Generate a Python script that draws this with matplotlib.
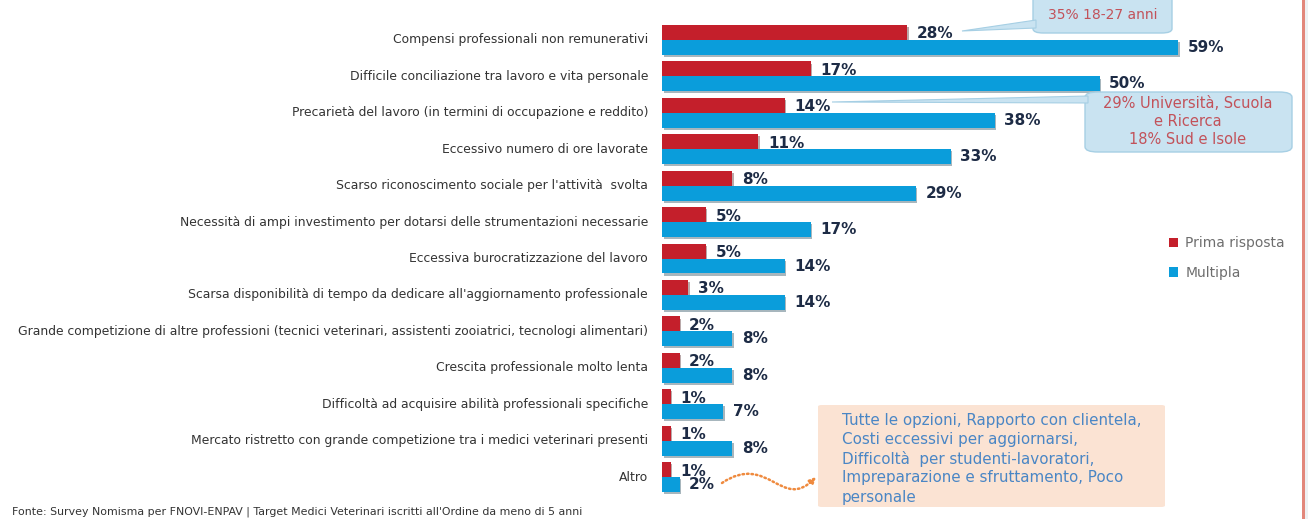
import numpy as np
import matplotlib
matplotlib.use('Agg')
import matplotlib.pyplot as plt
from matplotlib.patches import FancyBboxPatch, Polygon, Rectangle, FancyArrowPatch, Patch
from matplotlib.path import Path
import matplotlib.patheffects as pe

plt.rcParams['font.family'] = ['DejaVu Sans']

categories = [
    'Compensi professionali non remunerativi',
    'Difficile conciliazione tra lavoro e vita personale',
    'Precarietà del lavoro (in termini di occupazione e reddito)',
    'Eccessivo numero di ore lavorate',
    "Scarso riconoscimento sociale per l'attività  svolta",
    'Necessità di ampi investimento per dotarsi delle strumentazioni necessarie',
    'Eccessiva burocratizzazione del lavoro',
    "Scarsa disponibilità di tempo da dedicare all'aggiornamento professionale",
    'Grande competizione di altre professioni (tecnici veterinari, assistenti zooiatrici, tecnologi alimentari)',
    'Crescita professionale molto lenta',
    'Difficoltà ad acquisire abilità professionali specifiche',
    'Mercato ristretto con grande competizione tra i medici veterinari presenti',
    'Altro',
]
prima = [28, 17, 14, 11, 8, 5, 5, 3, 2, 2, 1, 1, 1]
multipla = [59, 50, 38, 33, 29, 17, 14, 14, 8, 8, 7, 8, 2]

RED = '#c41f2b'
BLUE = '#0a9ddb'
NAVY = '#1d2b45'
W, H = 1308, 519


def fx(x, y):
    # pixel (from top-left) -> figure fraction
    return (x / W, 1 - y / H)


fig = plt.figure(figsize=(W / 100, H / 100), dpi=100)
fig.patch.set_facecolor('white')

ax = fig.add_axes([662 / W, 0, (1300 - 662) / W, 1])
ax.set_xlim(0, 638 / 8.75)
ax.set_ylim(13.15, -1.098)
ax.axis('off')

y = np.arange(len(categories))
h = 0.41
shadow = [pe.SimplePatchShadow(offset=(1.2, -1.5), alpha=0.35), pe.Normal()]
bars_r = ax.barh(y - h / 2, prima, height=h, color=RED, path_effects=shadow)
bars_b = ax.barh(y + h / 2, multipla, height=h, color=BLUE, path_effects=shadow)

for yi, v in zip(y, prima):
    ax.annotate(f'{v}%', (v, yi - h / 2), xytext=(7, -1), textcoords='offset points',
                va='center', ha='left', fontsize=11, fontweight='heavy', color=NAVY)
for yi, v in zip(y, multipla):
    ax.annotate(f'{v}%', (v, yi + h / 2), xytext=(7, 0), textcoords='offset points',
                va='center', ha='left', fontsize=11, fontweight='heavy', color=NAVY)

# category labels
for yi, c in zip(y, categories):
    ax.annotate(c, (0, yi), xytext=(-10, 0), textcoords='offset points',
                ha='right', va='center', fontsize=8.9, color='#333333')

# right border strip
fig.patches.append(Rectangle(fx(1304, 519), (W - 1304) / W, 1, transform=fig.transFigure,
                             facecolor='#eef0f2', edgecolor='none'))
fig.patches.append(Rectangle(fx(1302, 519), 2.5 / W, 1, transform=fig.transFigure,
                             facecolor='#e2877b', edgecolor='none'))

CB_FACE = '#c9e3f1'
CB_EDGE = '#a6cfe4'
CB_TEXT = '#c2525a'

# callout 1
x0, y0 = fx(1033, 33)
x1, y1 = fx(1172, -8)
fig.patches.append(FancyBboxPatch((x0, y0), x1 - x0, y1 - y0, boxstyle='round,pad=0,rounding_size=0.008',
                                  transform=fig.transFigure, facecolor=CB_FACE, edgecolor=CB_EDGE, lw=1))
tail1 = Polygon([fx(962, 31), fx(1036, 20), fx(1036, 28)], closed=True, transform=fig.transFigure,
                facecolor=CB_FACE, edgecolor=CB_EDGE, lw=0.8)
fig.patches.append(tail1)
fig.text(*fx(1103, 15), '35% 18-27 anni', ha='center', va='center', fontsize=10, color=CB_TEXT)

# callout 2
x0, y0 = fx(1085, 152)
x1, y1 = fx(1292, 92)
fig.patches.append(FancyBboxPatch((x0, y0), x1 - x0, y1 - y0, boxstyle='round,pad=0,rounding_size=0.01',
                                  transform=fig.transFigure, facecolor=CB_FACE, edgecolor=CB_EDGE, lw=1))
tail2 = Polygon([fx(832, 102), fx(1088, 96), fx(1088, 103)], closed=True, transform=fig.transFigure,
                facecolor=CB_FACE, edgecolor=CB_EDGE, lw=0.8)
fig.patches.append(tail2)
for ty, t in zip([103, 121, 139], ['29% Università, Scuola', 'e Ricerca', '18% Sud e Isole']):
    fig.text(*fx(1188, ty), t, ha='center', va='center', fontsize=10.5, color=CB_TEXT)

# legend
handles = [Patch(facecolor=RED, label='Prima risposta'), Patch(facecolor=BLUE, label='Multipla')]
leg = fig.legend(handles=handles, loc='upper left', bbox_to_anchor=fx(1156, 224), frameon=False,
                 fontsize=10, handlelength=0.7, handleheight=0.7, handletextpad=0.5, labelspacing=1.1)
for t in leg.get_texts():
    t.set_color('#6e6e6e')

# bottom note box
x0, y0 = fx(818, 507)
x1, y1 = fx(1165, 405)
fig.patches.append(FancyBboxPatch((x0, y0), x1 - x0, y1 - y0, boxstyle='round,pad=0,rounding_size=0.003',
                                  transform=fig.transFigure, facecolor='#fbe3d3', edgecolor='none'))
note = ['Tutte le opzioni, Rapporto con clientela,',
        'Costi eccessivi per aggiornarsi,',
        'Difficoltà  per studenti-lavoratori,',
        'Impreparazione e sfruttamento, Poco',
        'personale']
for i, t in enumerate(note):
    fig.text(*fx(842, 420 + i * 19.3), t, ha='left', va='center', fontsize=10.9, color='#4a86c5')

# dotted curvy arrow
verts = [fx(722, 483), fx(768, 452), fx(782, 512), fx(816, 477)]
path = Path(verts, [Path.MOVETO, Path.CURVE4, Path.CURVE4, Path.CURVE4])
arr = FancyArrowPatch(path=path, transform=fig.transFigure, arrowstyle='-|>', mutation_scale=9,
                      color='#ef8a3e', lw=1.8, linestyle=(0, (0.6, 1.2)))
fig.patches.append(arr)

fig.text(*fx(12, 512), "Fonte: Survey Nomisma per FNOVI-ENPAV | Target Medici Veterinari iscritti all'Ordine da meno di 5 anni",
         ha='left', va='center', fontsize=7.9, color='#333333')

fig.savefig('out.png', dpi=100)
